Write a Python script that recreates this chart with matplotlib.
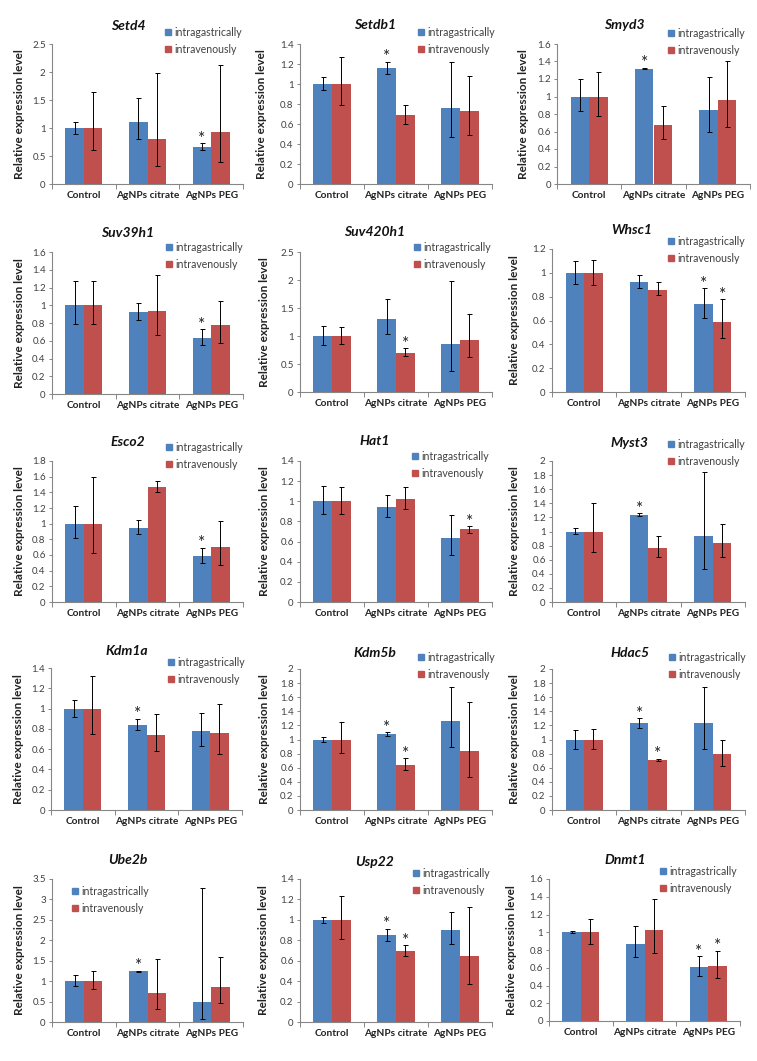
import matplotlib
matplotlib.use('Agg')
import matplotlib.pyplot as plt
import numpy as np
from matplotlib.patches import Patch

plt.rcParams['font.family'] = ['Lato', 'DejaVu Sans']

groups = ['Control', 'AgNPs citrate', 'AgNPs PEG']
series = ['intragastrically', 'intravenously']
genes = ['Setd4', 'Setdb1', 'Smyd3', 'Suv39h1', 'Suv420h1', 'Whsc1',
         'Esco2', 'Hat1', 'Myst3', 'Kdm1a', 'Kdm5b', 'Hdac5',
         'Ube2b', 'Usp22', 'Dnmt1']

# intragastrically: mean, lower end and upper end of the error bar
ig_mean = [[1.0, 1.11, 0.66], [1.0, 1.16, 0.76], [1.0, 1.32, 0.85],
           [1.0, 0.92, 0.63], [1.0, 1.31, 0.86], [1.0, 0.92, 0.74],
           [1.0, 0.95, 0.59], [1.0, 0.94, 0.64], [1.0, 1.24, 0.93],
           [1.0, 0.84, 0.78], [1.0, 1.08, 1.26], [1.0, 1.23, 1.24],
           [1.0, 1.24, 0.50], [1.0, 0.85, 0.905], [1.0, 0.87, 0.61]]
ig_low = [[0.89, 0.81, 0.60], [0.94, 1.10, 0.47], [0.83, 1.31, 0.60],
          [0.79, 0.83, 0.55], [0.84, 1.04, 0.38], [0.91, 0.87, 0.62],
          [0.82, 0.87, 0.50], [0.87, 0.84, 0.47], [0.96, 1.22, 0.47],
          [0.92, 0.79, 0.63], [0.97, 1.05, 0.90], [0.87, 1.16, 0.87],
          [0.87, 1.22, 0.07], [0.97, 0.79, 0.76], [0.99, 0.72, 0.51]]
ig_high = [[1.11, 1.53, 0.73], [1.07, 1.22, 1.22], [1.20, 1.33, 1.22],
           [1.27, 1.02, 0.73], [1.18, 1.66, 1.99], [1.10, 0.98, 0.87],
           [1.22, 1.05, 0.69], [1.15, 1.06, 0.86], [1.05, 1.26, 1.85],
           [1.08, 0.90, 0.96], [1.04, 1.10, 1.75], [1.14, 1.30, 1.75],
           [1.15, 1.26, 3.28], [1.03, 0.915, 1.08], [1.01, 1.07, 0.73]]

# intravenously
iv_mean = [[1.0, 0.81, 0.92], [1.0, 0.69, 0.73], [1.0, 0.68, 0.955],
           [1.0, 0.94, 0.78], [1.0, 0.70, 0.92], [1.0, 0.86, 0.59],
           [1.0, 1.47, 0.70], [1.0, 1.02, 0.72], [1.0, 0.77, 0.84],
           [1.0, 0.74, 0.76], [1.0, 0.64, 0.84], [1.0, 0.71, 0.80],
           [1.0, 0.70, 0.86], [1.0, 0.70, 0.65], [1.0, 1.02, 0.62]]
iv_low = [[0.60, 0.33, 0.39], [0.79, 0.60, 0.49], [0.78, 0.52, 0.65],
          [0.79, 0.67, 0.58], [0.85, 0.64, 0.625], [0.90, 0.81, 0.45],
          [0.62, 1.41, 0.47], [0.87, 0.92, 0.685], [0.71, 0.64, 0.64],
          [0.75, 0.58, 0.55], [0.81, 0.57, 0.47], [0.87, 0.69, 0.63],
          [0.80, 0.31, 0.46], [0.81, 0.65, 0.37], [0.87, 0.77, 0.49]]
iv_high = [[1.65, 1.98, 2.13], [1.27, 0.79, 1.08], [1.28, 0.89, 1.41],
           [1.27, 1.34, 1.05], [1.16, 0.78, 1.39], [1.11, 0.92, 0.78],
           [1.60, 1.54, 1.04], [1.14, 1.14, 0.75], [1.41, 0.94, 1.10],
           [1.32, 0.95, 1.05], [1.25, 0.735, 1.535], [1.15, 0.73, 1.00],
           [1.25, 1.55, 1.59], [1.23, 0.75, 1.13], [1.15, 1.37, 0.79]]

# significance stars (1 = marked)
ig_star = [[0, 0, 1], [0, 1, 0], [0, 1, 0], [0, 0, 1], [0, 0, 0],
           [0, 0, 1], [0, 0, 1], [0, 0, 0], [0, 1, 0], [0, 1, 0],
           [0, 1, 0], [0, 1, 0], [0, 1, 0], [0, 1, 0], [0, 0, 1]]
iv_star = [[0, 0, 0], [0, 0, 0], [0, 0, 0], [0, 0, 0], [0, 1, 0],
           [0, 0, 1], [0, 0, 0], [0, 0, 1], [0, 0, 0], [0, 0, 0],
           [0, 1, 0], [0, 1, 0], [0, 0, 0], [0, 1, 0], [0, 0, 1]]

y_max = [2.5, 1.4, 1.6, 1.6, 2.5, 1.2, 1.8, 1.4, 2.0, 1.4, 2.0, 2.0, 3.5, 1.4, 1.6]
y_step = [0.5, 0.2, 0.2, 0.2, 0.5, 0.2, 0.2, 0.2, 0.2, 0.2, 0.2, 0.2, 0.5, 0.2, 0.2]

blue = '#4F81BD'
red = '#C0504D'
W, H = 757, 1061

# axes boxes in pixels: left, right, top, bottom
boxes = [(52, 243, 44, 184), (300, 492, 44, 184), (557, 750, 44, 184),
         (52, 243, 252, 394), (300, 492, 252, 392), (552, 745, 249, 392),
         (52, 243, 461, 602), (300, 492, 461, 602), (552, 745, 461, 602),
         (51, 242, 668, 810), (300, 492, 669, 810), (552, 745, 669, 810),
         (52, 243, 879, 1022), (300, 492, 879, 1022), (549, 740, 879, 1021)]
# title centre (px)
titles_xy = [(128, 26), (375, 25), (624, 25),
             (128, 233), (375, 232), (632, 230),
             (128, 442), (375, 441), (629, 443),
             (127, 651), (375, 653), (630, 653),
             (128, 860), (375, 862), (625, 860)]
# legend: first marker left x, first row centre y (px)
legend_xy = [(165, 31), (418, 31), (668, 32),
             (166, 246), (414, 246), (668, 240),
             (166, 446), (412, 455), (668, 443),
             (168, 661), (418, 656), (669, 656),
             (72, 890), (413, 872), (660, 870)]
ylabel_off = [27, 33, 28, 27, 30, 32, 27, 30, 32, 27, 30, 32, 27, 31, 32]

fig = plt.figure(figsize=(W / 100, H / 100), dpi=100)
x = np.arange(len(groups))
bw = 0.29
err_kw = dict(ecolor='black', elinewidth=0.7, capsize=1.8, capthick=0.7)

for i, gene in enumerate(genes):
    l, r, t, b = boxes[i]
    wpx, hpx = r - l, b - t
    ax = fig.add_axes([l / W, 1 - b / H, wpx / W, hpx / H])

    m1 = np.array(ig_mean[i])
    m2 = np.array(iv_mean[i])
    e1 = [m1 - np.array(ig_low[i]), np.array(ig_high[i]) - m1]
    e2 = [m2 - np.array(iv_low[i]), np.array(iv_high[i]) - m2]
    ax.bar(x - bw / 2, m1, bw, color=blue, yerr=e1, error_kw=err_kw, zorder=2)
    ax.bar(x + bw / 2, m2, bw, color=red, yerr=e2, error_kw=err_kw, zorder=2)

    for j in range(len(groups)):
        if ig_star[i][j]:
            ax.annotate('*', (x[j] - bw / 2, ig_high[i][j]), xytext=(0, -2.5),
                        textcoords='offset points', ha='center', va='bottom',
                        fontsize=12.5, color='#222222')
        if iv_star[i][j]:
            ax.annotate('*', (x[j] + bw / 2, iv_high[i][j]), xytext=(0, -2.5),
                        textcoords='offset points', ha='center', va='bottom',
                        fontsize=12.5, color='#222222')

    ax.set_xlim(-0.5, len(groups) - 0.5)
    ax.set_ylim(0, y_max[i])
    ticks = np.arange(0, y_max[i] + 1e-9, y_step[i])
    ax.set_yticks(ticks)
    ax.set_yticklabels([f'{v:g}' for v in np.round(ticks, 2)], fontsize=7, color='#404040')
    ax.set_xticks(np.arange(-0.5, len(groups), 1.0))
    ax.set_xticklabels([])
    ax.set_xticks(x, minor=True)
    ax.set_xticklabels(groups, minor=True, fontsize=7.3, fontweight='bold', color='#222222')
    ax.tick_params(axis='x', which='minor', length=0, pad=5)
    ax.tick_params(axis='x', which='major', length=3.5, color='#868686', width=0.7)
    ax.tick_params(axis='y', length=2.5, color='#868686', width=0.7, pad=2)
    for s in ['top', 'right']:
        ax.spines[s].set_visible(False)
    for s in ['left', 'bottom']:
        ax.spines[s].set_color('#868686')
        ax.spines[s].set_linewidth(0.8)

    ax.set_ylabel('Relative expression level', fontsize=8.5, fontweight='bold', color='#222222')
    ax.yaxis.set_label_coords(-ylabel_off[i] / wpx, 0.5)

    tx, ty = titles_xy[i]
    ax.text((tx - l) / wpx, (b - ty) / hpx, gene, transform=ax.transAxes,
            ha='center', va='center', fontsize=10, fontweight='bold',
            fontstyle='italic', color='#111111')

    lx, ly = legend_xy[i]
    handles = [Patch(color=blue), Patch(color=red)]
    ax.legend(handles, series, loc='upper left', frameon=False,
              bbox_to_anchor=((lx - l) / wpx, (b - ly + 4) / hpx),
              fontsize=7.6, handlelength=0.55, handleheight=0.55,
              handletextpad=0.3, labelspacing=0.55, borderpad=0,
              borderaxespad=0, labelcolor='#404040')

fig.savefig('out.png', dpi=100)
